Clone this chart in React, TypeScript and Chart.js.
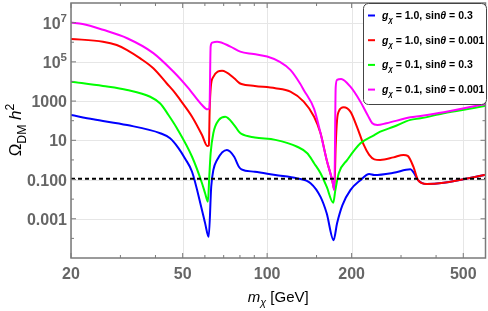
import React, { useEffect, useRef } from "react";
import { Chart, registerables } from "chart.js";

Chart.register(...registerables);

// ---- data (m_chi in GeV, Omega h^2) ----
const massBlue = [20, 24, 31.7, 41.6, 45.1, 48.3, 51.1, 54, 58.6, 60.1, 61.9, 63.2, 64.3, 66.3, 71.9, 76.3, 79.3, 81, 90.4, 107, 128, 142.8, 155, 163, 172.5, 177.5, 185.5, 198, 215, 231, 241, 282, 324, 332, 345, 371, 426, 594, 600];
const omegaBlue = [195, 117, 60, 23, 12.6, 4, 1.12, 0.25, 0.00275, 6e-4, 1.2e-4, 0.043, 0.3, 1, 3.2, 1.45, 0.45, 0.33, 0.25, 0.17, 0.115, 0.065, 0.013, 0.0019, 8.1e-5, 5.9e-4, 0.005, 0.029, 0.093, 0.19, 0.17, 0.22, 0.33, 0.24, 0.094, 0.059, 0.069, 0.17, 0.175];

const massRed = [20, 26, 29.1, 31.7, 35.3, 39.3, 43.9, 47.1, 49, 54, 58.6, 61.2, 62, 62.4, 63, 64.3, 69.1, 76.3, 79.3, 81, 90.4, 107, 121, 135, 147, 155, 163, 170.6, 173.6, 175.5, 177.5, 180, 187.5, 198, 209, 221, 231, 241, 253, 282, 306, 317, 332, 345, 371, 426, 594, 600];
const omegaRed = [1.48e6, 1.07e6, 7.2e5, 4e5, 1.5e5, 4.7e4, 7.9e3, 2.5e3, 1.15e3, 160, 18.6, 5.1, 5.5, 355, 5.4e3, 1.7e4, 3.5e4, 1.45e4, 8.7e3, 7.4e3, 5.9e3, 4.5e3, 3e3, 930, 160, 23, 1, 0.09, 0.03, 5, 110, 300, 480, 290, 49, 5.8, 1.8, 1.07, 1.0, 1.35, 1.8, 1.6, 0.45, 0.094, 0.059, 0.069, 0.17, 0.175];

const massGreen = [20, 26, 31.7, 38.3, 41.6, 44.5, 47.7, 54, 58.6, 60.1, 61.5, 62.2, 62.9, 64.3, 67.3, 70.9, 76.3, 79.3, 81, 90.4, 107, 128, 139, 147, 155, 163, 172, 175, 180, 193, 215, 241, 253, 282, 324, 352, 426, 594, 600];
const omegaGreen = [9.8e3, 5.9e3, 3.7e3, 1.66e3, 750, 195, 41, 1.45, 0.065, 0.02, 0.0074, 0.14, 2.2, 23, 110, 160, 60, 27.5, 21, 14, 10.5, 4.7, 2.2, 0.68, 0.21, 0.043, 0.0066, 0.029, 0.21, 1, 7, 18.6, 27.5, 49, 110, 132, 240, 560, 580];

const massMagenta = [20, 22, 26, 31.7, 39.3, 46.3, 52.3, 58.6, 61.2, 62.3, 62.9, 63.7, 66.3, 74, 80.2, 89.5, 100, 111, 121, 131, 135, 147, 155, 163, 170.6, 173.6, 175.5, 177.5, 183.6, 198, 215, 228, 237, 247, 266, 324, 352, 426, 594, 600];
const omegaMagenta = [1e7, 8.5e6, 4.3e6, 1.6e6, 2.8e5, 3.2e4, 4.7e3, 630, 380, 420, 6e5, 9.5e5, 1.07e6, 6e5, 3.3e5, 2.5e5, 1.86e5, 1.0e5, 3.9e4, 7.9e3, 3.7e3, 400, 23, 1, 0.093, 0.029, 5e3, 1.2e4, 1.35e4, 5.4e3, 930, 195, 74, 60, 74, 148, 174, 270, 690, 710];

const relicMass = [20, 600];
const relicOmega = [0.11, 0.11];

const seriesColors = ["#0000ff", "#ff0000", "#00ff00", "#ff00ff"];
const legendG = ["1.0", "1.0", "0.1", "0.1"];
const legendSin = ["0.3", "0.001", "0.3", "0.001"];

const xMajorTicks = [20, 50, 100, 200, 500];
const xMajorLabels = ["20", "50", "100", "200", "500"];
const xMinorTicks = [30, 40, 60, 70, 80, 90, 150, 300, 400];
const yMajorTicks = [1e-3, 1e-1, 1e1, 1e3, 1e5, 1e7];
const yMajorLabels = ["0.001", "0.100", "10", "1000", "10^5", "10^7"];
const yMinorTicks = [1e-4, 1e-2, 1, 1e2, 1e4, 1e6];

const FAMILY = '"Liberation Sans", Arial, sans-serif';

type Seg = { t: string; it?: boolean; sub?: boolean; sup?: boolean };

function segFont(s: Seg, size: number, weight: string) {
  const sz = s.sub || s.sup ? size * 0.72 : size;
  return `${s.it ? "italic " : ""}${weight} ${sz}px ${FAMILY}`;
}
function richWidth(ctx: CanvasRenderingContext2D, segs: Seg[], size: number, weight: string) {
  let w = 0;
  for (const s of segs) {
    ctx.font = segFont(s, size, weight);
    w += ctx.measureText(s.t).width;
  }
  return w;
}
function drawRich(ctx: CanvasRenderingContext2D, segs: Seg[], x: number, y: number, size: number, weight: string) {
  let cx = x;
  ctx.textBaseline = "alphabetic";
  ctx.textAlign = "left";
  for (const s of segs) {
    ctx.font = segFont(s, size, weight);
    const dy = s.sub ? size * 0.28 : s.sup ? -size * 0.42 : 0;
    ctx.fillText(s.t, cx, y + dy);
    cx += ctx.measureText(s.t).width;
  }
}
function labelSegs(label: string): Seg[] {
  const i = label.indexOf("^");
  if (i < 0) return [{ t: label }];
  return [{ t: label.slice(0, i) }, { t: label.slice(i + 1), sup: true }];
}

const decor = {
  id: "decor",
  beforeDatasetsDraw(chart: any) {
    const { ctx, chartArea: a, scales } = chart;
    const x = scales.x, y = scales.y;
    ctx.save();
    ctx.strokeStyle = "#e6e6e6";
    ctx.lineWidth = 1;
    ctx.beginPath();
    for (const v of yMajorTicks) {
      const p = Math.round(y.getPixelForValue(v)) + 0.5;
      ctx.moveTo(a.left, p);
      ctx.lineTo(a.right, p);
    }
    for (const v of xMajorTicks) {
      const p = Math.round(x.getPixelForValue(v)) + 0.5;
      ctx.moveTo(p, a.top);
      ctx.lineTo(p, a.bottom);
    }
    ctx.stroke();
    ctx.restore();
  },
  afterDatasetsDraw(chart: any) {
    const { ctx, chartArea: a, scales } = chart;
    const x = scales.x, y = scales.y;
    ctx.save();
    // frame
    ctx.strokeStyle = "#7a7a7a";
    ctx.lineWidth = 1.5;
    ctx.strokeRect(a.left, a.top, a.right - a.left, a.bottom - a.top);
    // ticks
    ctx.lineWidth = 1;
    ctx.beginPath();
    const xt = (vals: number[], len: number) => {
      for (const v of vals) {
        const p = x.getPixelForValue(v);
        ctx.moveTo(p, a.bottom);
        ctx.lineTo(p, a.bottom - len);
        ctx.moveTo(p, a.top);
        ctx.lineTo(p, a.top + len);
      }
    };
    const yt = (vals: number[], len: number) => {
      for (const v of vals) {
        const p = y.getPixelForValue(v);
        ctx.moveTo(a.left, p);
        ctx.lineTo(a.left + len, p);
        ctx.moveTo(a.right, p);
        ctx.lineTo(a.right - len, p);
      }
    };
    xt(xMajorTicks, 5);
    xt(xMinorTicks, 3);
    yt(yMajorTicks, 5);
    yt(yMinorTicks, 3);
    ctx.stroke();

    // tick labels
    ctx.fillStyle = "#666666";
    const tsize = 16;
    ctx.font = `bold ${tsize}px ${FAMILY}`;
    ctx.textAlign = "center";
    ctx.textBaseline = "alphabetic";
    xMajorTicks.forEach((v, i) => {
      ctx.fillText(xMajorLabels[i], x.getPixelForValue(v), a.bottom + 21);
    });
    yMajorTicks.forEach((v, i) => {
      const segs = labelSegs(yMajorLabels[i]);
      const w = richWidth(ctx, segs, tsize, "bold");
      drawRich(ctx, segs, a.left - 4 - w, y.getPixelForValue(v) + 6, tsize, "bold");
    });

    // x title
    ctx.fillStyle = "#000";
    const xs: Seg[] = [{ t: "m", it: true }, { t: "χ", it: true, sub: true }, { t: " [GeV]" }];
    const xw = richWidth(ctx, xs, 15, "normal");
    drawRich(ctx, xs, (a.left + a.right) / 2 - xw / 2, 302, 15, "normal");

    // y title
    const ys: Seg[] = [{ t: "Ω" }, { t: "DM", sub: true }, { t: " " }, { t: "h", it: true }, { t: "2", sup: true }];
    ctx.save();
    ctx.translate(21, 130);
    ctx.rotate(-Math.PI / 2);
    const yw = richWidth(ctx, ys, 17, "normal");
    drawRich(ctx, ys, -yw / 2, 0, 17, "normal");
    ctx.restore();

    // legend
    const lx = 363.5, ly = 3.5, lw = 123, lh = 101, r = 5;
    ctx.beginPath();
    ctx.moveTo(lx + r, ly);
    ctx.arcTo(lx + lw, ly, lx + lw, ly + lh, r);
    ctx.arcTo(lx + lw, ly + lh, lx, ly + lh, r);
    ctx.arcTo(lx, ly + lh, lx, ly, r);
    ctx.arcTo(lx, ly, lx + lw, ly, r);
    ctx.closePath();
    ctx.fillStyle = "#ffffff";
    ctx.fill();
    ctx.strokeStyle = "#444";
    ctx.lineWidth = 1;
    ctx.stroke();
    for (let i = 0; i < 4; i++) {
      const cy = 15.5 + i * 24.7;
      ctx.strokeStyle = seriesColors[i];
      ctx.lineWidth = 2;
      ctx.beginPath();
      ctx.moveTo(368, cy);
      ctx.lineTo(375, cy);
      ctx.stroke();
      ctx.fillStyle = "#000";
      const segs: Seg[] = [
        { t: "g", it: true },
        { t: "χ", it: true, sub: true },
        { t: " = " + legendG[i] + ", sin" },
        { t: "θ", it: true },
        { t: " = " + legendSin[i] },
      ];
      drawRich(ctx, segs, 382, cy + 3.5, 10.5, "bold");
    }
    ctx.restore();
  },
};

function pts(ms: number[], os: number[]) {
  return ms.map((m, i) => ({ x: m, y: os[i] }));
}

export default function App() {
  const ref = useRef<HTMLCanvasElement | null>(null);
  useEffect(() => {
    document.body.style.margin = "0";
    const canvas = ref.current!;
    const mk = (label: string, ms: number[], os: number[], color: string, order: number) => ({
      label,
      data: pts(ms, os),
      borderColor: color,
      backgroundColor: color,
      borderWidth: 2,
      pointRadius: 0,
      cubicInterpolationMode: "monotone" as const,
      order,
    });
    const chart = new Chart(canvas, {
      type: "line",
      data: {
        datasets: [
          mk("blue", massBlue, omegaBlue, seriesColors[0], 5),
          mk("red", massRed, omegaRed, seriesColors[1], 4),
          mk("green", massGreen, omegaGreen, seriesColors[2], 3),
          mk("magenta", massMagenta, omegaMagenta, seriesColors[3], 2),
          {
            label: "relic",
            data: pts(relicMass, relicOmega),
            borderColor: "#000",
            borderWidth: 2,
            borderDash: [4, 3],
            pointRadius: 0,
            order: 1,
          },
        ],
      },
      options: {
        responsive: false,
        animation: false,
        devicePixelRatio: 1,
        layout: { padding: { left: 71, right: 2.5, top: 3, bottom: 53 } },
        plugins: { legend: { display: false }, tooltip: { enabled: false } },
        scales: {
          x: { type: "logarithmic", min: 20, max: 600, display: false },
          y: { type: "logarithmic", min: 1e-5, max: 1e8, display: false },
        },
      },
      plugins: [decor],
    });
    return () => chart.destroy();
  }, []);
  return (
    <div style={{ width: 488, height: 311 }}>
      <canvas ref={ref} width={488} height={311} />
    </div>
  );
}
